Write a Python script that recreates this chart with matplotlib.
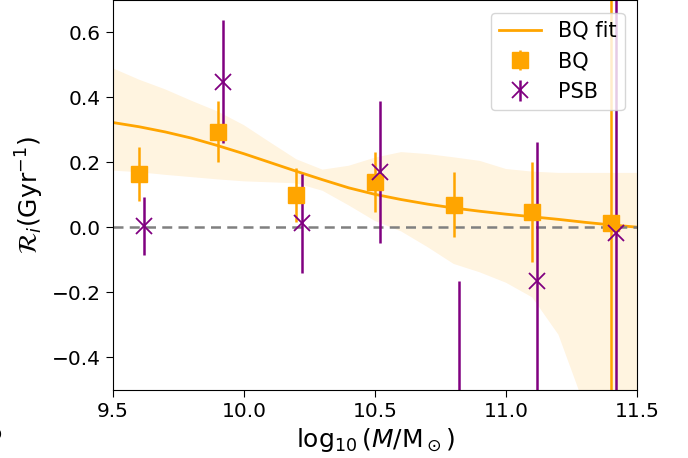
import numpy as np
import matplotlib.pyplot as plt

# BQ points (orange squares)
bq_mass = [9.6, 9.9, 10.2, 10.5, 10.8, 11.1, 11.4]
bq_rate = [0.165, 0.295, 0.100, 0.140, 0.070, 0.048, 0.014]
bq_err = [0.083, 0.095, 0.083, 0.093, 0.100, 0.155, 1.200]

# PSB points (purple crosses), offset slightly in mass
psb_mass = [9.62, 9.92, 10.22, 10.52, 10.82, 11.12, 11.42]
psb_rate = [0.005, 0.449, 0.013, 0.170, -0.620, -0.166, -0.016]
psb_err = [0.090, 0.188, 0.153, 0.218, 0.455, 0.430, 1.200]

# BQ fit and its uncertainty band
fit_mass = [9.5, 9.6, 9.7, 9.8, 9.9, 10.0, 10.1, 10.2, 10.3, 10.4, 10.5,
            10.6, 10.7, 10.8, 10.9, 11.0, 11.1, 11.2, 11.3, 11.4, 11.5]
fit_rate = [0.323, 0.310, 0.294, 0.275, 0.252, 0.227, 0.200, 0.173, 0.147, 0.122, 0.102,
            0.086, 0.072, 0.060, 0.050, 0.041, 0.033, 0.025, 0.016, 0.008, 0.001]
fit_hi = [0.490, 0.455, 0.425, 0.390, 0.357, 0.315, 0.262, 0.210, 0.178, 0.190, 0.215,
          0.232, 0.226, 0.216, 0.205, 0.180, 0.172, 0.168, 0.168, 0.168, 0.168]
fit_lo = [0.175, 0.170, 0.162, 0.155, 0.148, 0.142, 0.139, 0.136, 0.113, 0.068, 0.020,
          -0.012, -0.060, -0.112, -0.138, -0.170, -0.215, -0.330, -0.550, -0.900, -1.200]

fig = plt.figure(figsize=(6.88, 4.58), dpi=100)
ax = fig.add_axes([0.164, 0.1485, 0.762, 0.8515])

ax.fill_between(fit_mass, fit_lo, fit_hi, color='orange', alpha=0.12, lw=0)
ax.plot(fit_mass, fit_rate, color='orange', lw=2, label='BQ fit')
ax.axhline(0, color='grey', ls='--', lw=1.8, dashes=(4, 2.5))

ax.errorbar(bq_mass, bq_rate, yerr=bq_err, fmt='s', color='orange',
            ms=11, elinewidth=1.8, label='BQ')
ax.errorbar(psb_mass, psb_rate, yerr=psb_err, fmt='x', color='purple',
            ms=11, mew=1.3, elinewidth=1.8, label='PSB')

ax.set_xlim(9.5, 11.5)
ax.set_ylim(-0.5, 0.7)
ax.set_xticks([9.5, 10.0, 10.5, 11.0, 11.5])
ax.set_yticks([-0.4, -0.2, 0.0, 0.2, 0.4, 0.6])
ax.tick_params(labelsize=14.5, length=5)

ax.set_xlabel(r'$\log_{10}(M/\mathrm{M}_\odot)$', fontsize=18)
ax.set_ylabel(r'$\mathcal{R}_i(\mathrm{Gyr}^{-1})$', fontsize=18)

ax.legend(loc='upper right', fontsize=15, borderaxespad=0.6)

# clipped fragment of a neighbouring label
fig.text(0.004, 0.04, '5', fontsize=17, ha='right')

fig.savefig('out.png', dpi=100)
